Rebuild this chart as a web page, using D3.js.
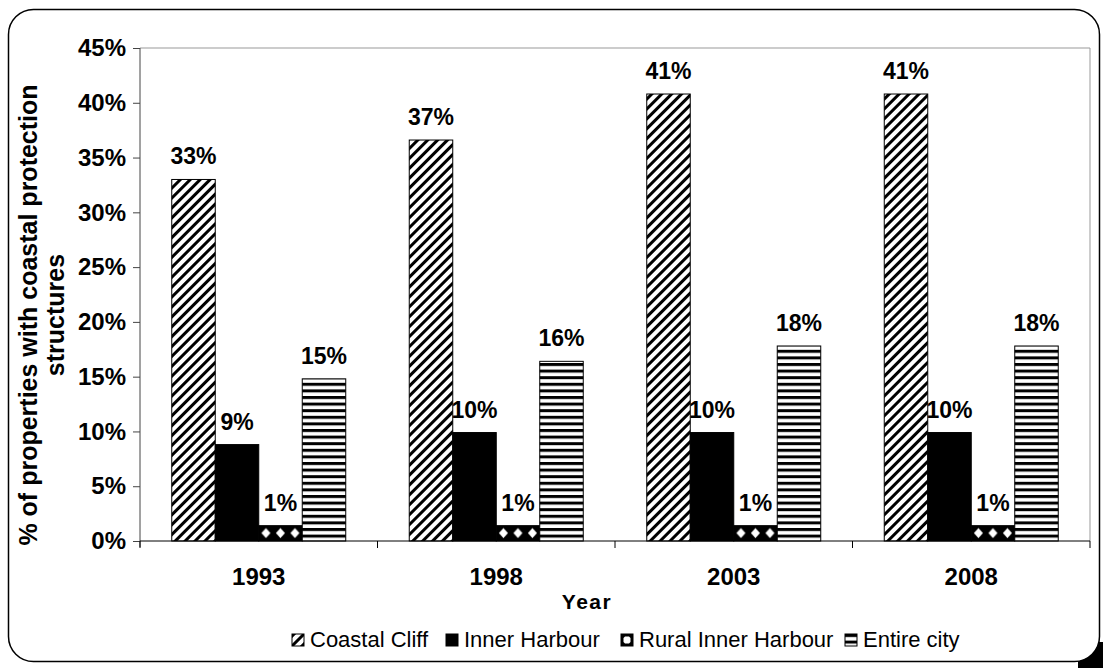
<!DOCTYPE html>
<html>
<head>
<meta charset="utf-8">
<script src="https://cdn.jsdelivr.net/npm/d3@7"></script>
<style>
  body { margin: 0; background: #fff; }
  svg { font-family: "Liberation Sans", Arial, sans-serif; }
</style>
</head>
<body>
<svg width="1103" height="668"></svg>
<script>
// data (percent)
const years = ['1993', '1998', '2003', '2008'];
const seriesNames = ['Coastal Cliff', 'Inner Harbour', 'Rural Inner Harbour', 'Entire city'];
const coastalCliff = [33.0, 36.6, 40.8, 40.8];
const innerHarbour = [8.8, 9.9, 9.9, 9.9];
const ruralInnerHarbour = [1.4, 1.4, 1.4, 1.4];
const entireCity = [14.8, 16.4, 17.8, 17.8];
const yTicks = [0, 5, 10, 15, 20, 25, 30, 35, 40, 45];

const seriesValues = [coastalCliff, innerHarbour, ruralInnerHarbour, entireCity];
const fills = ['url(#diag)', '#000', 'url(#diamonds)', 'url(#horiz)'];

const svg = d3.select('svg');
const plotL = 140, plotR = 1090, plotT = 48, plotB = 541;

// patterns
const defs = svg.append('defs');
const diag = defs.append('pattern').attr('id', 'diag')
    .attr('patternUnits', 'userSpaceOnUse').attr('width', 7).attr('height', 7)
    .attr('patternTransform', 'rotate(45)');
diag.append('rect').attr('width', 7).attr('height', 7).attr('fill', '#fff');
diag.append('rect').attr('width', 3).attr('height', 7).attr('fill', '#000');

const horiz = defs.append('pattern').attr('id', 'horiz')
    .attr('patternUnits', 'userSpaceOnUse').attr('width', 7).attr('height', 6.6);
horiz.append('rect').attr('width', 7).attr('height', 6.6).attr('fill', '#fff');
horiz.append('rect').attr('width', 7).attr('height', 3).attr('fill', '#000');

const dia = defs.append('pattern').attr('id', 'diamonds')
    .attr('patternUnits', 'objectBoundingBox').attr('width', 1 / 3).attr('height', 1);
dia.append('rect').attr('width', 20).attr('height', 30).attr('fill', '#000');
dia.append('path').attr('d', 'M7.2,2.5 L11.7,7.5 L7.2,12.5 L2.7,7.5 Z').attr('fill', '#fff');

// outer frame; black shows only outside the bottom-right corner
svg.append('rect').attr('x', 1078).attr('y', 642).attr('width', 25).attr('height', 26)
    .attr('fill', '#000');
svg.append('rect').attr('x', 8.5).attr('y', 9.5).attr('width', 1091).attr('height', 652)
    .attr('rx', 25).attr('fill', '#fff').attr('stroke', '#000').attr('stroke-width', 1.5);

const x0 = d3.scaleBand().domain(years).range([plotL, plotR]);
const x1 = d3.scaleBand().domain(seriesNames).range([0, x0.bandwidth()]).paddingOuter(0.73);
const y = d3.scaleLinear().domain([0, 45]).range([plotB, plotT]);

// plot area border (top/right)
svg.append('path')
    .attr('d', `M${plotL},${plotT}H${plotR}V${plotB}`)
    .attr('fill', 'none').attr('stroke', '#999');

// bars
const groups = svg.selectAll('g.year').data(years).enter().append('g')
    .attr('transform', d => `translate(${x0(d)},0)`);

groups.each(function (yr, i) {
    const g = d3.select(this);
    seriesNames.forEach((s, k) => {
        const v = seriesValues[k][i];
        g.append('rect')
            .attr('x', x1(s)).attr('width', x1.bandwidth())
            .attr('y', y(v)).attr('height', y(0) - y(v))
            .attr('fill', fills[k]).attr('stroke', '#000').attr('stroke-width', 1);
        g.append('text')
            .attr('x', x1(s) + x1.bandwidth() / 2).attr('y', y(v) - 15)
            .attr('text-anchor', 'middle').attr('font-weight', 'bold').attr('font-size', 23)
            .text(d3.format('.0%')(v / 100));
    });
});

// y axis
const yAxis = svg.append('g').attr('transform', `translate(${plotL},0)`)
    .call(d3.axisLeft(y).tickValues(yTicks).tickSize(7).tickPadding(7).tickFormat(d => d + '%'));
yAxis.select('.domain').attr('stroke', '#444').attr('d', `M0,${plotT}V${plotB + 6}`);
yAxis.selectAll('.tick line').attr('stroke', '#444');
yAxis.selectAll('.tick text').attr('font-size', 24).attr('font-weight', 'bold')
    .attr('fill', '#000').attr('font-family', '"Liberation Sans", Arial, sans-serif');

// x axis
svg.append('line').attr('x1', plotL).attr('x2', plotR).attr('y1', plotB).attr('y2', plotB)
    .attr('stroke', '#000');
const bounds = years.map(d => x0(d)).concat([plotR]);
svg.selectAll('line.xt').data(bounds).enter().append('line')
    .attr('x1', d => d).attr('x2', d => d).attr('y1', plotB).attr('y2', plotB + 7)
    .attr('stroke', '#000');
svg.selectAll('text.cat').data(years).enter().append('text')
    .attr('x', d => x0(d) + x0.bandwidth() / 2).attr('y', 585)
    .attr('text-anchor', 'middle').attr('font-weight', 'bold').attr('font-size', 24)
    .text(d => d);

svg.append('text').attr('x', 587).attr('y', 609).attr('text-anchor', 'middle')
    .attr('font-weight', 'bold').attr('font-size', 21).attr('letter-spacing', 1.5)
    .text('Year');

// y title
const yt = svg.append('text').attr('transform', 'translate(0,315) rotate(-90)')
    .attr('text-anchor', 'middle').attr('font-weight', 'bold').attr('font-size', 25);
yt.append('tspan').attr('x', 0).attr('y', 37).text('% of properties with coastal protection');
yt.append('tspan').attr('x', 0).attr('y', 64).text('structures');

// legend
const legendX = [292, 446, 621, 845];
const lg = svg.selectAll('g.lg').data(seriesNames).enter().append('g')
    .attr('transform', (d, i) => `translate(${legendX[i]},634)`);
lg.append('rect').attr('width', 12).attr('height', 12)
    .attr('fill', (d, i) => i === 2 ? '#000' : fills[i]).attr('stroke', '#000');
lg.filter((d, i) => i === 2).append('path')
    .attr('d', 'M4,2.5H8L9.5,4V8L8,9.5H4L2.5,8V4Z').attr('fill', '#fff');
lg.append('text').attr('x', 18).attr('y', 13).attr('font-size', 22).text(d => d);
</script>
</body>
</html>
